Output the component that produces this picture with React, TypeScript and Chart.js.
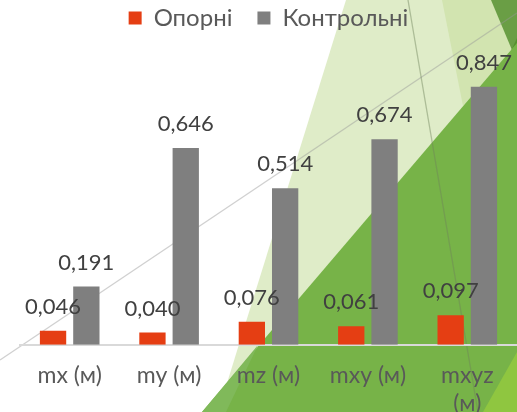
import React, { useEffect, useRef } from "react";
import { Chart, registerables } from "chart.js";

Chart.register(...registerables);

const categories: (string | string[])[] = ["mx (м)", "my (м)", "mz (м)", "mxy (м)", ["mxyz", "(м)"]];
const seriesNames = ["Опорні", "Контрольні"];
const oporniValues = [0.046, 0.04, 0.076, 0.061, 0.097];
const kontrolniValues = [0.191, 0.646, 0.514, 0.674, 0.847];
const seriesColors = ["#e53e13", "#7f7f7f"];

const FONT = "Lato, 'Open Sans', sans-serif";

const fmt = (v: number) => v.toFixed(3).replace(".", ",");

// Decorative slide background (not data)
const backgroundPlugin = {
  id: "slideBackground",
  beforeDraw(chart: any) {
    const ctx = chart.ctx as CanvasRenderingContext2D;
    const W = chart.width;
    const H = chart.height;
    const poly = (pts: number[][], color: string) => {
      ctx.beginPath();
      ctx.moveTo(pts[0][0], pts[0][1]);
      for (let i = 1; i < pts.length; i++) ctx.lineTo(pts[i][0], pts[i][1]);
      ctx.closePath();
      ctx.fillStyle = color;
      ctx.fill();
    };
    ctx.save();
    ctx.fillStyle = "#ffffff";
    ctx.fillRect(0, 0, W, H);
    poly([[346, 0], [W, 0], [W, H], [218, H]], "#dfecc8");
    poly([[442, 0], [W, 0], [W, 43], [463, 106]], "#d2e4b0");
    poly([[491, 0], [W, 0], [W, 62]], "#6a9e45");
    poly([[W, 38], [W, 90], [506, 62]], "#55912f");
    poly([[202, H], [W, 43], [W, H]], "#77b348");
    poly([[202, H], [258, 345], [226, H]], "#80b95a");
    poly([[483, H], [W, 352], [W, H]], "#8fc640");
    ctx.lineWidth = 1.3;
    ctx.strokeStyle = "rgba(150,150,150,0.45)";
    ctx.beginPath();
    ctx.moveTo(0, 360);
    ctx.lineTo(W, 13);
    ctx.stroke();
    ctx.strokeStyle = "rgba(110,130,90,0.45)";
    ctx.beginPath();
    ctx.moveTo(408, 0);
    ctx.lineTo(478, H);
    ctx.stroke();
    ctx.restore();
  },
};

const valueLabelPlugin = {
  id: "valueLabels",
  afterDatasetsDraw(chart: any) {
    const ctx = chart.ctx as CanvasRenderingContext2D;
    ctx.save();
    ctx.font = `22px ${FONT}`;
    ctx.fillStyle = "#404040";
    ctx.textAlign = "center";
    ctx.textBaseline = "alphabetic";
    chart.data.datasets.forEach((ds: any, i: number) => {
      const meta = chart.getDatasetMeta(i);
      meta.data.forEach((bar: any, j: number) => {
        ctx.fillText(fmt(ds.data[j]), bar.x, bar.y - 17);
      });
    });
    ctx.restore();
  },
};

export default function App() {
  const ref = useRef<HTMLCanvasElement | null>(null);
  useEffect(() => {
    if (!ref.current) return;
    const chart = new Chart(ref.current, {
      type: "bar",
      data: {
        labels: categories,
        datasets: [
          {
            label: seriesNames[0],
            data: oporniValues,
            backgroundColor: seriesColors[0],
            categoryPercentage: 0.67,
            barPercentage: 0.79,
          },
          {
            label: seriesNames[1],
            data: kontrolniValues,
            backgroundColor: seriesColors[1],
            categoryPercentage: 0.67,
            barPercentage: 0.79,
          },
        ],
      },
      options: {
        responsive: false,
        animation: false,
        layout: { padding: { left: 20, right: 0, top: -19, bottom: -22 } },
        plugins: {
          legend: {
            display: true,
            position: "top",
            labels: {
              boxWidth: 13,
              boxHeight: 13,
              padding: 25,
              color: "#595959",
              font: { family: FONT, size: 24 },
            },
          },
          tooltip: { enabled: false },
        },
        scales: {
          x: {
            grid: { display: false, drawTicks: false },
            border: { display: true, color: "#d9d9d9", width: 2 },
            ticks: {
              color: "#595959",
              font: { family: FONT, size: 23, lineHeight: 1.2 },
              padding: 17,
              maxRotation: 0,
              autoSkip: false,
            },
          },
          y: {
            display: false,
            min: 0,
            max: 1.0,
          },
        },
      },
      plugins: [backgroundPlugin, valueLabelPlugin],
    });
    return () => chart.destroy();
  }, []);
  return (
    <div style={{ position: "absolute", left: 0, top: 0, width: 517, height: 412 }}>
      <canvas ref={ref} width={517} height={412} />
    </div>
  );
}
